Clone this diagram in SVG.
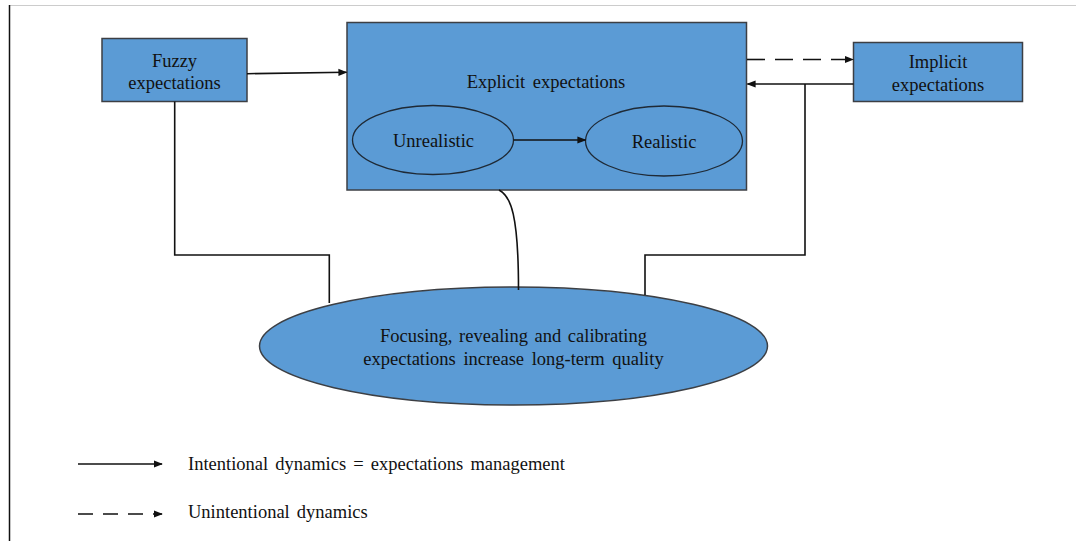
<svg xmlns="http://www.w3.org/2000/svg" width="1076" height="541" viewBox="0 0 1076 541">
  <style>
    .box { fill: #5b9bd5; stroke: #3c3f44; stroke-width: 1.5; }
    .inner { fill: #5b9bd5; stroke: #1f2a36; stroke-width: 1.3; }
    .lbl { font-family: "Liberation Serif", "Times New Roman", serif; font-size: 18.5px; fill: #111; text-anchor: middle; }
    .leg { font-family: "Liberation Serif", "Times New Roman", serif; font-size: 18.5px; fill: #111; word-spacing: 2.5px; }
    .wire { fill: none; stroke: #111; stroke-width: 1.6; }
    .dash { stroke-dasharray: 18 10; }
  </style>
  <defs>
    <marker id="arr" viewBox="0 0 10 10" refX="9" refY="5" markerWidth="9" markerHeight="9" markerUnits="userSpaceOnUse" orient="auto">
      <path d="M0,1 L10,5 L0,9 Z" fill="#111"/>
    </marker>
  </defs>

  <rect x="0" y="0" width="1076" height="541" fill="#ffffff"/>
  <!-- frame edges -->
  <line x1="9" y1="5.5" x2="1076" y2="5.5" stroke="#cccccc" stroke-width="1.2"/>
  <line x1="9.5" y1="5" x2="9.5" y2="541" stroke="#111" stroke-width="1.5"/>

  <g id="fuzzy">
    <rect class="box" x="102" y="38.5" width="145" height="63"/>
    <text class="lbl" x="174.5" y="66.5">Fuzzy</text>
    <text class="lbl" x="174.5" y="88.5">expectations</text>
  </g>

  <g id="explicit">
    <rect class="box" x="347" y="22.5" width="399.5" height="167.5"/>
    <text class="lbl" x="546" y="87.5" word-spacing="3">Explicit expectations</text>
  </g>

  <g id="unrealistic">
    <ellipse class="inner" cx="433" cy="140" rx="80.5" ry="34.5"/>
    <text class="lbl" x="433.5" y="147">Unrealistic</text>
  </g>

  <g id="realistic">
    <ellipse class="inner" cx="664" cy="141" rx="78.5" ry="35"/>
    <text class="lbl" x="664" y="147.5">Realistic</text>
  </g>

  <g id="implicit">
    <rect class="box" x="853.5" y="42.5" width="169" height="59"/>
    <text class="lbl" x="938" y="67.5">Implicit</text>
    <text class="lbl" x="938" y="91">expectations</text>
  </g>

  <g id="outcome">
    <ellipse class="box" cx="513.5" cy="346" rx="254" ry="59"/>
    <text class="lbl" x="513.5" y="342" word-spacing="2">Focusing, revealing and calibrating</text>
    <text class="lbl" x="513.5" y="364.5" word-spacing="3">expectations increase long-term quality</text>
  </g>

  <g id="connectors">
    <line class="wire" x1="247" y1="73.7" x2="346.5" y2="72.3" marker-end="url(#arr)"/>
    <line class="wire" x1="513.5" y1="140" x2="585.5" y2="140" marker-end="url(#arr)"/>
    <line class="wire dash" x1="747" y1="59.5" x2="853" y2="59.5" marker-end="url(#arr)"/>
    <line class="wire" x1="853.5" y1="84" x2="747.5" y2="84" marker-end="url(#arr)"/>
    <polyline class="wire" points="174.7,101.5 174.7,255 329.3,255 329.3,303"/>
    <polyline class="wire" points="805,84 805,255 645,255 645,295"/>
    <path class="wire" d="M499,190 C511,196 518.5,215 518.5,290"/>
  </g>

  <g id="legend">
    <line class="wire" x1="78" y1="464" x2="162" y2="464" marker-end="url(#arr)"/>
    <text class="leg" x="188" y="470">Intentional dynamics = expectations management</text>
    <line class="wire" x1="78" y1="514" x2="162" y2="514" stroke-dasharray="15 10" marker-end="url(#arr)"/>
    <text class="leg" x="188" y="518">Unintentional dynamics</text>
  </g>
</svg>
